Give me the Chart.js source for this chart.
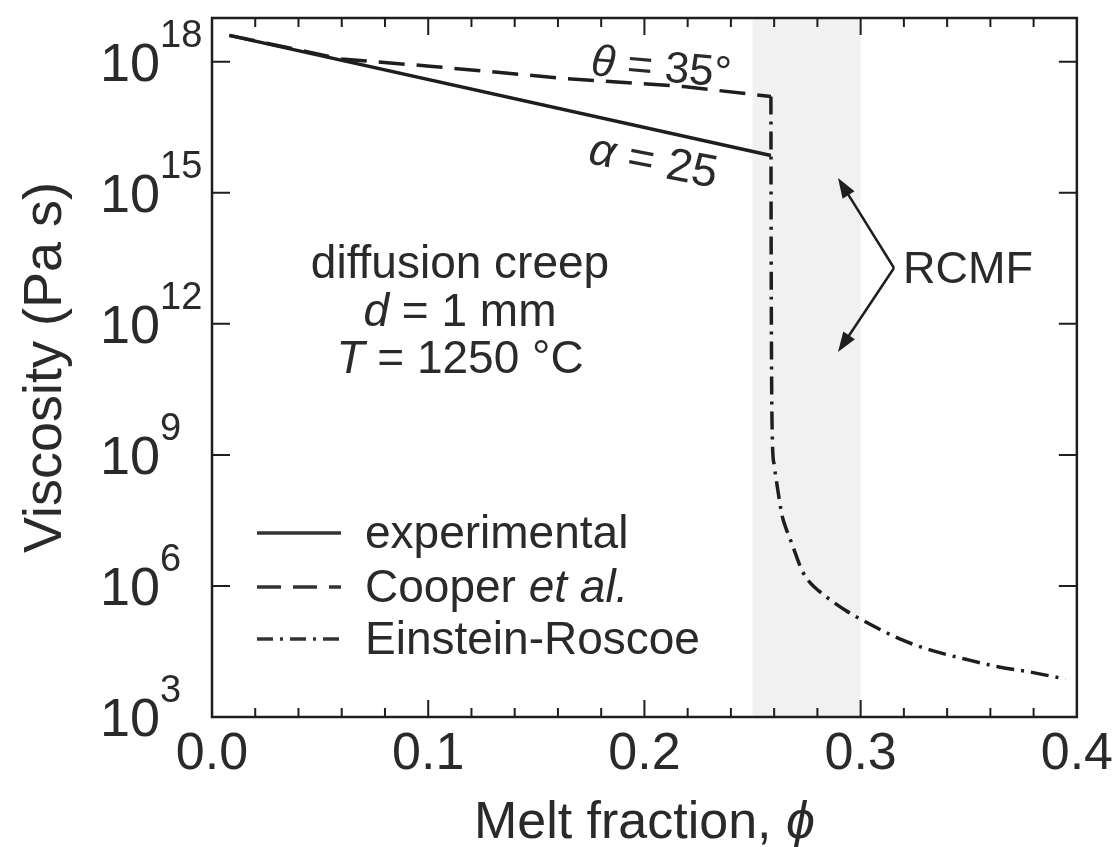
<!DOCTYPE html>
<html>
<head>
<meta charset="utf-8">
<script src="https://cdn.jsdelivr.net/npm/chart.js@4.4.1/dist/chart.umd.min.js"></script>
<style>
  html, body { margin: 0; padding: 0; background: #fff; }
  canvas { display: block; }
</style>
</head>
<body>
<canvas id="chart" width="1119" height="847"></canvas>
<script>
// Viscosity vs melt fraction
const expPhi = [0.008, 0.2585];
const expEta = [4.0e18, 7.1e15];

const cooperPhi = [0.008, 0.06, 0.102, 0.164, 0.218, 0.2585];
const cooperEta = [4.0e18, 1.15e18, 7.8e17, 4.1e17, 2.7e17, 1.6e17];

const erPhi = [0.2585, 0.2586, 0.2588, 0.2592, 0.2600, 0.2614, 0.2637, 0.2656, 0.2679, 0.273, 0.2767, 0.2808, 0.2933, 0.3024, 0.3178, 0.3332, 0.3486, 0.364, 0.3793, 0.3947];
const erEta = [1.6e17, 1e14, 1e11, 2.0e9, 5.9e8, 1.95e8, 4.0e7, 2.0e7, 1.02e7, 2.2e6, 1.17e6, 7.6e5, 2.7e5, 1.5e5, 6.2e4, 3.3e4, 2.1e4, 1.4e4, 1.05e4, 7.4e3];

const yTickExp = [3, 6, 9, 12, 15, 18];
const rcmfBand = [0.25, 0.30];

const FONT = "'Liberation Sans', Arial, Helvetica, sans-serif";
const INK = '#1e1e1e';
const TEXT = '#2a2a2a';

const pts = (xs, ys) => xs.map((v, i) => ({ x: v, y: ys[i] }));
const isMajor = v => Math.abs(v * 10 - Math.round(v * 10)) < 1e-6;

// draw a row of text pieces, some italic
function runs(ctx, parts, x, y, size, align) {
    const fontOf = p => `${p.it ? 'italic ' : ''}${p.size || size}px ${FONT}`;
    let w = 0;
    parts.forEach(p => { ctx.font = fontOf(p); w += ctx.measureText(p.t).width; });
    let cx = align === 'center' ? x - w / 2 : x;
    ctx.textAlign = 'left';
    parts.forEach(p => {
        ctx.font = fontOf(p);
        ctx.fillText(p.t, cx, y + (p.dy || 0));
        cx += ctx.measureText(p.t).width;
    });
}

function arrow(ctx, x0, y0, x1, y1) {
    const ang = Math.atan2(y1 - y0, x1 - x0);
    const L = 20, W = 7;
    ctx.beginPath();
    ctx.moveTo(x0, y0);
    ctx.lineTo(x1 - Math.cos(ang) * L * 0.8, y1 - Math.sin(ang) * L * 0.8);
    ctx.stroke();
    ctx.beginPath();
    ctx.moveTo(x1, y1);
    ctx.lineTo(x1 - Math.cos(ang) * L + Math.sin(ang) * W, y1 - Math.sin(ang) * L - Math.cos(ang) * W);
    ctx.lineTo(x1 - Math.cos(ang) * L - Math.sin(ang) * W, y1 - Math.sin(ang) * L + Math.cos(ang) * W);
    ctx.closePath();
    ctx.fill();
}

const figure = {
    id: 'figure',
    beforeDatasetsDraw(chart) {
        const { ctx, chartArea: a, scales: { x } } = chart;
        const x0 = x.getPixelForValue(rcmfBand[0]);
        const x1 = x.getPixelForValue(rcmfBand[1]);
        ctx.save();
        ctx.fillStyle = '#f1f1f1';
        ctx.fillRect(x0, a.top, x1 - x0, a.bottom - a.top);
        ctx.restore();
    },
    afterDraw(chart) {
        const { ctx, chartArea: a, scales: { x, y } } = chart;
        ctx.save();
        ctx.strokeStyle = INK;
        ctx.fillStyle = TEXT;

        // frame + inward ticks
        ctx.lineWidth = 2.5;
        ctx.strokeRect(a.left, a.top, a.right - a.left, a.bottom - a.top);
        ctx.lineWidth = 2;
        ctx.beginPath();
        x.ticks.forEach(t => {
            const px = x.getPixelForValue(t.value);
            if (px <= a.left + 1 || px >= a.right - 1) return;
            const len = isMajor(t.value) ? 17 : 9;
            ctx.moveTo(px, a.bottom); ctx.lineTo(px, a.bottom - len);
            ctx.moveTo(px, a.top); ctx.lineTo(px, a.top + len);
        });
        y.ticks.forEach(t => {
            const py = y.getPixelForValue(t.value);
            if (py >= a.bottom - 1 || py <= a.top + 1) return;
            ctx.moveTo(a.left, py); ctx.lineTo(a.left + 18, py);
            ctx.moveTo(a.right, py); ctx.lineTo(a.right - 18, py);
        });
        ctx.stroke();

        // y tick labels 10^n
        ctx.textBaseline = 'alphabetic';
        y.ticks.forEach(t => {
            const py = y.getPixelForValue(t.value);
            const e = Math.round(Math.log10(t.value));
            runs(ctx, [{ t: '10', dy: 19 }, { t: String(e), size: 38, dy: -15 }], 100, py, 54, 'left');
        });

        // x title
        runs(ctx, [{ t: 'Melt fraction, ' }, { t: 'ϕ', it: true }], (a.left + a.right) / 2, 838, 52, 'center');

        // condition text
        runs(ctx, [{ t: 'diffusion creep' }], 460, 278, 46, 'center');
        runs(ctx, [{ t: 'd', it: true }, { t: ' = 1 mm' }], 460, 326, 46, 'center');
        runs(ctx, [{ t: 'T', it: true }, { t: ' = 1250 °C' }], 460, 373, 46, 'center');

        // curve labels
        ctx.save();
        ctx.translate(590, 75);
        ctx.rotate(5 * Math.PI / 180);
        runs(ctx, [{ t: 'θ', it: true }, { t: ' = 35°' }], 0, 0, 44, 'left');
        ctx.restore();
        ctx.save();
        ctx.translate(587, 163);
        ctx.rotate(11 * Math.PI / 180);
        runs(ctx, [{ t: 'α', it: true }, { t: ' = 25' }], 0, 0, 46, 'left');
        ctx.restore();

        // RCMF with arrows
        runs(ctx, [{ t: 'RCMF' }], 903, 283, 45, 'left');
        ctx.fillStyle = INK;
        ctx.lineWidth = 2.5;
        arrow(ctx, 894, 268, 838, 178);
        arrow(ctx, 894, 268, 838, 352);

        // legend
        const legend = [
            { dash: [], parts: [{ t: 'experimental' }] },
            { dash: [24, 12], parts: [{ t: 'Cooper ' }, { t: 'et al.', it: true }] },
            { dash: [16, 7, 3, 7], parts: [{ t: 'Einstein-Roscoe' }] }
        ];
        const rowY = [533, 587, 639];
        legend.forEach((l, i) => {
            ctx.strokeStyle = '#333';
            ctx.lineWidth = 3.5;
            ctx.setLineDash(l.dash);
            ctx.beginPath();
            ctx.moveTo(257, rowY[i]); ctx.lineTo(341, rowY[i]);
            ctx.stroke();
            ctx.setLineDash([]);
            ctx.fillStyle = TEXT;
            ctx.textBaseline = 'middle';
            runs(ctx, l.parts, 365, rowY[i] + 2, 46, 'left');
        });
        ctx.restore();
    }
};

new Chart(document.getElementById('chart'), {
    type: 'line',
    data: {
        datasets: [
            { label: 'experimental', data: pts(expPhi, expEta), borderColor: INK, borderWidth: 3.5, tension: 0 },
            { label: 'Cooper et al.', data: pts(cooperPhi, cooperEta), borderColor: INK, borderWidth: 3.5, borderDash: [26, 12], tension: 0 },
            { label: 'Einstein-Roscoe', data: pts(erPhi, erEta), borderColor: INK, borderWidth: 3.5, borderDash: [18, 7, 3, 7], cubicInterpolationMode: 'monotone' }
        ]
    },
    options: {
        responsive: false,
        animation: false,
        devicePixelRatio: 1,
        layout: { padding: { top: 18, right: 41, left: 0, bottom: 0 } },
        elements: { point: { radius: 0 }, line: { borderCapStyle: 'butt' } },
        plugins: { legend: { display: false }, tooltip: { enabled: false } },
        scales: {
            x: {
                type: 'linear', min: 0, max: 0.4,
                grid: { display: false, drawTicks: false },
                border: { display: false },
                ticks: {
                    stepSize: 0.02, autoSkip: false, maxRotation: 0, padding: 6,
                    color: TEXT, font: { family: FONT, size: 52 },
                    callback: v => isMajor(v) ? v.toFixed(1) : ''
                },
                afterFit: s => { s.height = 130; }
            },
            y: {
                type: 'logarithmic', min: 1e3, max: 1e19,
                grid: { display: false, drawTicks: false },
                border: { display: false },
                ticks: { display: false },
                afterBuildTicks: s => { s.ticks = yTickExp.map(e => ({ value: Math.pow(10, e) })); },
                title: {
                    display: true, text: 'Viscosity (Pa s)', color: TEXT,
                    font: { family: FONT, size: 54 }, padding: { top: 14, bottom: 0 }
                },
                afterFit: s => { s.width = 212; }
            }
        }
    },
    plugins: [figure]
});
</script>
</body>
</html>
